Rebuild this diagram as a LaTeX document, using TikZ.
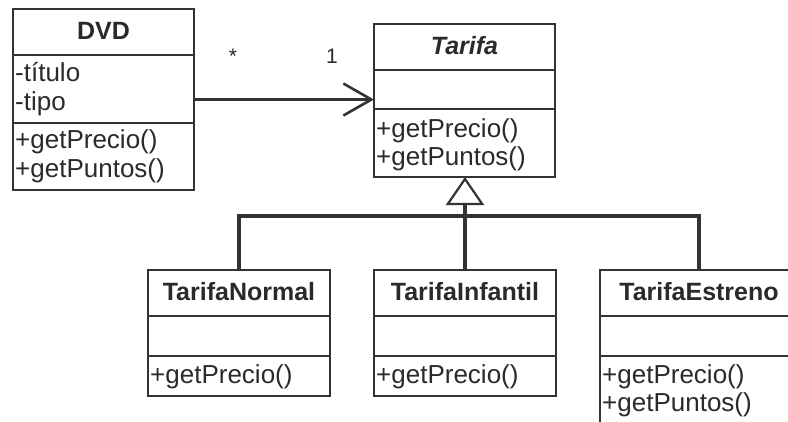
\documentclass[tikz,border=0pt]{standalone}
\usepackage{fontspec}
\setmainfont{Liberation Sans}
\usetikzlibrary{arrows.meta}
\definecolor{ink}{HTML}{333333}
\definecolor{txt}{HTML}{2A2A2A}
\tikzset{
  classbox/.style={draw=ink, line width=2pt, rectangle, inner sep=0pt, outer sep=0pt, fill=white},
  divider/.style={draw=ink, line width=2pt},
  member/.style={anchor=base west, inner sep=0pt, text=txt, font=\fontsize{26}{30}\selectfont},
  ctitle/.style={inner sep=0pt, text=txt, font=\bfseries\fontsize{25}{30}\selectfont},
  mult/.style={anchor=base, inner sep=0pt, text=txt, font=\fontsize{21}{25}\selectfont},
  assoc/.style={draw=ink, line width=3.3pt, -{Straight Barb[length=28pt,width=32pt,line width=2.6pt]}},
  genline/.style={draw=ink, line width=3.6pt},
  gen/.style={draw=ink, line width=3.6pt, -{Triangle[open,length=28pt,width=38pt,line width=2.2pt,fill=white]}},
}
\begin{document}
\begin{tikzpicture}[x=1pt,y=-1pt]
\useasboundingbox (0,0) rectangle (788,421);
\clip (0,0) rectangle (788,421);
\fill[white] (0,0) rectangle (788,421);

% class boxes
\node[classbox, minimum width=181pt, minimum height=181pt] (dvd) at (103.5,99.5) {};
\node[classbox, minimum width=181pt, minimum height=153pt] (tarifa) at (464.5,100.5) {};
\node[classbox, minimum width=182pt, minimum height=126pt] (tn) at (239,333) {};
\node[classbox, minimum width=182pt, minimum height=126pt] (ti) at (465,333) {};
\node[classbox, minimum width=198pt, minimum height=170pt] (te) at (699,355) {};

% dividers
\draw[divider] (dvd.west |- 0,55) -- (dvd.east |- 0,55);
\draw[divider] (dvd.west |- 0,123) -- (dvd.east |- 0,123);
\draw[divider] (tarifa.west |- 0,70) -- (tarifa.east |- 0,70);
\draw[divider] (tarifa.west |- 0,109) -- (tarifa.east |- 0,109);
\draw[divider] (tn.west |- 0,316) -- (tn.east |- 0,316);
\draw[divider] (tn.west |- 0,356) -- (tn.east |- 0,356);
\draw[divider] (ti.west |- 0,316) -- (ti.east |- 0,316);
\draw[divider] (ti.west |- 0,356) -- (ti.east |- 0,356);
\draw[divider] (te.west |- 0,316) -- (te.east |- 0,316);
\draw[divider] (te.west |- 0,356) -- (te.east |- 0,356);

% titles
\node[ctitle] (dvdT) at (103.5,31) {DVD};
\node[ctitle, font=\bfseries\itshape\fontsize{25}{30}\selectfont] (tarifaT) at (464.5,46) {Tarifa};
\node[ctitle] (tnT) at (239,292) {TarifaNormal};
\node[ctitle] (tiT) at (465,292) {TarifaInfantil};
\node[ctitle] (teT) at (699,292) {TarifaEstreno};

% members
\node[member] (d1) at (15,81) {-título};
\node[member] (d2) at (15,110) {-tipo};
\node[member] (d3) at (15,148) {+getPrecio()};
\node[member] (d4) at (15,177) {+getPuntos()};
\node[member] (t1) at (376,137) {+getPrecio()};
\node[member] (t2) at (376,165) {+getPuntos()};
\node[member] (n1) at (150,383) {+getPrecio()};
\node[member] (i1) at (376,383) {+getPrecio()};
\node[member] (e1) at (602,383) {+getPrecio()};
\node[member] (e2) at (602,411) {+getPuntos()};

% association
\draw[assoc] (dvd.east) -- (dvd.east -| tarifa.west);
\node[mult] (m1) at (233,63) {*};
\node[mult] (m2) at (332,63) {1};

% generalization
\coordinate (j) at (465,216);
\draw[gen] (ti.north) -- (tarifa.south -| ti.north);
\draw[genline] (tn.north) |- (j);
\draw[genline] (te.north) |- (j);
\end{tikzpicture}
\end{document}
